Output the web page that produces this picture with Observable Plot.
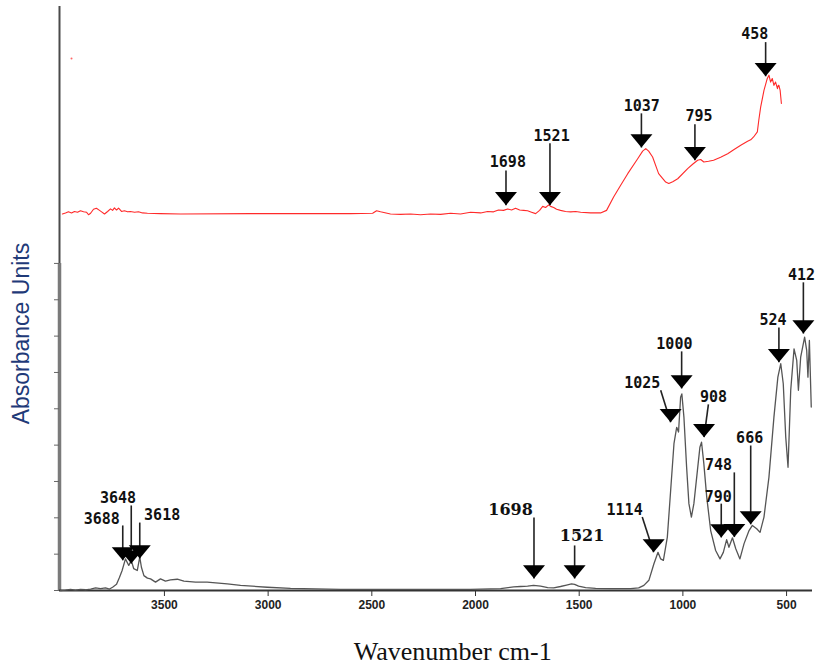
<!DOCTYPE html>
<html>
<head>
<meta charset="utf-8">
<script src="https://cdn.jsdelivr.net/npm/d3@7"></script>
<script src="https://cdn.jsdelivr.net/npm/@observablehq/plot@0.6"></script>
<style>
  html, body { margin: 0; padding: 0; background: #fff; }
  #chart { width: 818px; height: 668px; }
</style>
</head>
<body>
<div id="chart"></div>
<script>
// ---------- Data ----------
// Lower (black) spectrum
const bottomWavenumber = [4001,3977,3953,3929,3905,3881,3856,3832,3808,3784,3765,3750,3731,3717,3704,3688,3672,3660,3648,3631,3619,3611,3599,3582,3567,3543,3519,3495,3471,3438,3406,3350,3294,3197,3133,3004,2892,2651,2361,2024,1879,1816,1783,1749,1720,1686,1652,1623,1590,1561,1537,1522,1503,1469,1421,1348,1252,1213,1188,1164,1140,1120,1107,1094,1075,1059,1043,1030,1021,1011,1005,995,982,971,959,947,930,918,910,899,885,866,842,821,805,789,778,761,745,725,705,681,665,644,628,609,585,561,542,528,516,504,493,480,464,451,443,432,413,403,397,390,381];
const bottomAbsorbance = [0,0.01,0.03,0.01,0.03,0.02,0.04,0.07,0.05,0.07,0.04,0.09,0.17,0.36,0.55,0.87,0.69,0.83,0.60,0.55,0.92,0.64,0.41,0.34,0.32,0.23,0.32,0.26,0.29,0.31,0.26,0.23,0.23,0.18,0.14,0.09,0.06,0.03,0.03,0.03,0.05,0.10,0.11,0.12,0.14,0.12,0.08,0.07,0.11,0.15,0.18,0.17,0.12,0.08,0.06,0.05,0.05,0.07,0.14,0.28,0.73,1.05,0.87,0.83,1.47,2.75,4.04,4.49,4.36,5.32,5.41,4.77,3.39,2.39,2.02,2.39,3.30,3.94,4.08,3.49,2.57,1.65,1.10,0.87,1.05,1.40,1.19,1.45,1.15,0.87,1.29,1.65,1.79,1.70,1.60,2.02,3.12,4.77,5.87,6.24,5.69,4.22,3.39,5.51,6.65,6.33,5.51,6.42,6.97,6.61,5.87,6.88,5.05];

// Upper (red) spectrum, stacked above the lower one
const topOffset = 10.37;
const topWavenumber = [3992,3977,3963,3948,3934,3919,3905,3890,3876,3866,3856,3842,3828,3813,3803,3789,3774,3760,3750,3741,3731,3721,3707,3693,3678,3664,3644,3625,3606,3582,3519,3422,3085,2602,2496,2477,2458,2410,2361,2313,2265,2217,2168,2120,2072,2024,1975,1942,1913,1889,1865,1845,1826,1807,1787,1768,1749,1730,1710,1691,1676,1662,1647,1638,1623,1609,1590,1566,1541,1517,1493,1445,1397,1368,1334,1300,1266,1218,1194,1179,1165,1146,1117,1083,1068,1049,1025,977,953,929,914,899,876,852,818,784,755,721,688,673,659,641,634,625,609,593,585,577,569,561,553,544,540,537,531,525];
const topAbsorbance = [-0.01,0.02,0.05,0.02,0.06,0.04,0.08,0.05,0.04,-0.03,0.01,0.12,0.15,0.09,0.05,-0.01,0.06,0.13,0.09,0.16,0.10,0.15,0.06,0.08,0.05,0.06,0.04,0.05,0.02,0.01,0,-0.01,0,0,0.01,0.08,0.05,-0.01,-0.02,-0.01,-0.03,-0.01,-0.02,0.01,-0.01,0.04,0.02,0.06,0.05,0.10,0.09,0.13,0.10,0.15,0.10,0.09,0.08,0.04,0,0.09,0.20,0.17,0.24,0.20,0.17,0.12,0.09,0.06,0.05,0.06,0.04,0.02,0.02,0.09,0.46,0.78,1.10,1.51,1.72,1.79,1.72,1.56,1.10,0.87,0.83,0.88,0.96,1.24,1.36,1.47,1.49,1.42,1.44,1.47,1.55,1.65,1.76,1.88,1.99,2.03,2.11,2.25,2.57,2.93,3.39,3.72,3.81,3.62,3.72,3.53,3.62,3.44,3.53,3.53,3.39,3.03];
const topStrayWavenumber = [3948];
const topStrayAbsorbance = [4.27];

// Peak annotations, lower spectrum
const bottomPeakLabels = ["3688","3648","3618","1698","1521","1114","1025","1000","908","790","748","666","524","412"];
const bottomPeakTipX   = [3701,3660,3619,1718,1522,1141,1059,1006,898,815,752,673,537,419];
const bottomPeakTipY   = [0.83,0.74,0.88,0.33,0.33,1.05,4.63,5.56,4.22,1.46,1.47,1.82,6.28,7.07];
const bottomPeakStemX  = [3701,3660,3619,1718,1522,1196,1107,1006,877,815,752,673,537,419];
const bottomPeakStemY  = [1.79,2.34,1.87,2.01,1.24,2.02,5.51,6.58,5.12,2.39,3.25,3.99,7.24,8.48];
const bottomPeakTextX  = [3802,3724,3511,1831,1486,1281,1196,1041,852,829,828,678,565,428];
const bottomPeakTextY  = [1.97,2.55,2.07,2.23,1.49,2.20,5.71,6.78,5.32,2.57,3.44,4.18,7.45,8.68];
const bottomLargeLabels = ["1698","1521"];

// Peak annotations, upper spectrum (heights relative to its own baseline)
const topPeakLabels = ["1698","1521","1037","795","458"];
const topPeakTipX   = [1853,1641,1200,942,601];
const topPeakTipY   = [0.23,0.23,1.82,1.47,3.78];
const topPeakStemY  = [1.19,1.94,2.76,2.46,4.72];
const topPeakTextX  = [1844,1633,1198,922,653];
const topPeakTextY  = [1.42,2.14,2.97,2.67,4.93];

// Axes
const xTicks = [3500, 3000, 2500, 2000, 1500, 1000, 500];
const yTicks = [0, 1, 2, 3, 4, 5, 6, 7, 8, 9];
const xDomain = [4006, 375];
const yDomain = [0, 16.07];
const xTitle = "Wavenumber cm-1";
const yTitle = "Absorbance Units";
const xTitlePos = {x: 2110, y: -1.68};
const yTitlePos = {x: 4187, y: 7.07};

// ---------- Build tables ----------
const bottomSpectrum = bottomWavenumber.map((w, i) => ({w, a: bottomAbsorbance[i]}));
const topSpectrum = topWavenumber.map((w, i) => ({w, a: topAbsorbance[i] + topOffset}));
const stray = topStrayWavenumber.map((w, i) => ({w, a: topStrayAbsorbance[i] + topOffset}));

const bottomPeaks = bottomPeakLabels.map((label, i) => ({
  label, tipX: bottomPeakTipX[i], tipY: bottomPeakTipY[i],
  stemX: bottomPeakStemX[i], stemY: bottomPeakStemY[i],
  textX: bottomPeakTextX[i], textY: bottomPeakTextY[i],
  large: bottomLargeLabels.includes(label)
}));
const topPeaks = topPeakLabels.map((label, i) => ({
  label, tipX: topPeakTipX[i], tipY: topPeakTipY[i] + topOffset,
  stemX: topPeakTipX[i], stemY: topPeakStemY[i] + topOffset,
  textX: topPeakTextX[i], textY: topPeakTextY[i] + topOffset
}));
const allPeaks = bottomPeaks.concat(topPeaks);

const downTriangle = {
  draw(context, size) {
    const r = Math.sqrt(size / Math.PI);
    context.moveTo(0, 0);
    context.lineTo(-r, -1.2 * r);
    context.lineTo(r, -1.2 * r);
    context.closePath();
  }
};

const chart = Plot.plot({
  width: 818,
  height: 668,
  marginLeft: 59,
  marginRight: 6,
  marginTop: 6,
  marginBottom: 78,
  style: {background: "white", fontFamily: "Liberation Sans", overflow: "visible"},
  x: {domain: xDomain, axis: null},
  y: {domain: yDomain, axis: null},
  marks: [
    // left axis: upper panel (thin dark) and lower panel (thick grey)
    Plot.ruleX([xDomain[0]], {y1: 9, y2: yDomain[1], stroke: "#4a4a4a", strokeWidth: 2}),
    Plot.ruleX([xDomain[0]], {y1: 0, y2: 9, stroke: "#7a7a7a", strokeWidth: 3.5}),
    Plot.axisY({ticks: yTicks, tickSize: 5, tickFormat: () => "", label: null, stroke: "#666"}),
    // bottom axis
    Plot.ruleY([0], {stroke: "#333", strokeWidth: 2}),
    Plot.axisX({ticks: xTicks, tickSize: 6, tickPadding: 4, tickFormat: d => String(d), label: null,
      fontSize: 12, fontWeight: "bold", fontFamily: "Liberation Sans", stroke: "#333", fill: "#222"}),
    // spectra
    Plot.line(bottomSpectrum, {x: "w", y: "a", stroke: "#555", strokeWidth: 1.3, curve: "linear"}),
    Plot.line(topSpectrum, {x: "w", y: "a", stroke: "#ff2a2a", strokeWidth: 1.1, curve: "linear"}),
    Plot.dot(stray, {x: "w", y: "a", r: 1, fill: "#ff6666", stroke: "none"}),
    // peak arrows
    Plot.link(allPeaks, {x1: "stemX", y1: "stemY", x2: "tipX", y2: "tipY", stroke: "#222", strokeWidth: 1.6}),
    Plot.dot(allPeaks, {x: "tipX", y: "tipY", symbol: downTriangle, r: 11, fill: "#000", stroke: "none"}),
    // peak labels
    Plot.text(bottomPeaks.filter(d => !d.large), {x: "textX", y: "textY", text: "label",
      fontFamily: "DejaVu Sans Mono", fontWeight: "bold", fontSize: 15, fill: "#111",
      lineAnchor: "middle", ariaLabel: "bottom-small-labels"}),
    Plot.text(bottomPeaks.filter(d => d.large), {x: "textX", y: "textY", text: "label",
      fontFamily: "DejaVu Serif", fontWeight: "bold", fontSize: 16, fill: "#111",
      lineAnchor: "middle", ariaLabel: "bottom-large-labels"}),
    Plot.text(topPeaks, {x: "textX", y: "textY", text: "label",
      fontFamily: "DejaVu Sans Mono", fontWeight: "bold", fontSize: 15, fill: "#111",
      lineAnchor: "middle", ariaLabel: "top-labels"}),
    // titles
    Plot.text([xTitle], {x: xTitlePos.x, y: xTitlePos.y, text: d => d,
      fontFamily: "Liberation Serif", fontSize: 26, fill: "#111", lineAnchor: "middle"}),
    Plot.text([yTitle], {x: yTitlePos.x, y: yTitlePos.y, text: d => d, rotate: -90,
      fontFamily: "Liberation Sans", fontSize: 23, fill: "#1f3a78", lineAnchor: "middle"})
  ]
});

document.getElementById("chart").appendChild(chart);

const spacing = {"bottom-small-labels": 2.3, "bottom-large-labels": 2.5, "top-labels": 3};
for (const [name, s] of Object.entries(spacing)) {
  chart.querySelectorAll(`g[aria-label="${name}"] text`).forEach(t => t.setAttribute("letter-spacing", s));
}
</script>
</body>
</html>
